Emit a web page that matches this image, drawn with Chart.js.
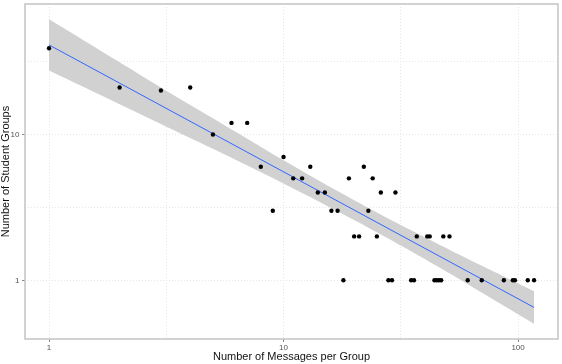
<!DOCTYPE html>
<html>
<head>
<meta charset="utf-8">
<script src="https://cdn.jsdelivr.net/npm/chart.js@4"></script>
<style>
    body { margin: 0; background: #fff; }
    canvas { display: block; }
</style>
</head>
<body>
<canvas id="graficoGrupos" width="562" height="364"></canvas>
<script>
// dados
const msgPerGroup = [1, 2, 3, 4, 5, 6, 7, 8, 9, 10, 11, 12, 13, 14, 15, 16, 17, 18, 19, 20, 21, 22, 23, 24, 25, 26,
    28, 29, 30, 35, 36, 37, 41, 42, 44, 45, 46, 47, 48, 51, 61, 70, 87, 95, 97, 110, 117];
const studentGroups = [39, 21, 20, 21, 10, 12, 12, 6, 3, 7, 5, 5, 6, 4, 4, 3, 3, 1, 5, 2, 2, 6, 3, 5, 2, 4,
    1, 1, 4, 1, 1, 2, 2, 2, 1, 1, 1, 1, 2, 2, 1, 1, 1, 1, 1, 1, 1];

// reta ajustada (extremos)
const fitX = [1, 117];
const fitY = [41.1, 0.652];

// faixa de confiança
const bandX = [1, 2, 3, 5, 10, 20, 35, 60, 117];
const bandUpper = [61.7, 31.3, 21.0, 12.9, 6.65, 3.54, 2.20, 1.42, 0.842];
const bandLower = [27.4, 16.1, 11.8, 7.97, 4.61, 2.59, 1.58, 0.956, 0.504];

// ticks (principais com rótulo, secundários só com grade)
const xTickValues = [1, 3.1623, 10, 31.623, 100];
const xTickLabels = ['1', '', '10', '', '100'];
const yTickValues = [1, 3.1623, 10, 31.623];
const yTickLabels = ['1', '', '10', ''];

const pontos = msgPerGroup.map((x, i) => ({ x: x, y: studentGroups[i] }));
const reta = fitX.map((x, i) => ({ x: x, y: fitY[i] }));
const faixaSup = bandX.map((x, i) => ({ x: x, y: bandUpper[i] }));
const faixaInf = bandX.map((x, i) => ({ x: x, y: bandLower[i] }));

// moldura do painel
const moldura = {
    id: 'moldura',
    afterDraw(chart) {
        const a = chart.chartArea;
        const ctx = chart.ctx;
        ctx.save();
        ctx.strokeStyle = '#c4c4c4';
        ctx.lineWidth = 1.5;
        ctx.strokeRect(a.left, a.top, a.right - a.left, a.bottom - a.top);
        ctx.restore();
    }
};

function eixoLog(valores, rotulos, min, max, titulo, lado) {
    return {
        type: 'logarithmic',
        min: min,
        max: max,
        afterBuildTicks: s => { s.ticks = valores.map(v => ({ value: v })); },
        afterFit: s => {
            // sem folga extra para os rótulos das pontas
            s.paddingTop = 0;
            s.paddingBottom = 0;
            s.paddingLeft = 0;
            s.paddingRight = 0;
            if (lado === 'x') s.height = 25; else s.width = 25;
        },
        ticks: {
            autoSkip: false,
            maxRotation: 0,
            padding: lado === 'x' ? 1 : 2.5,
            color: '#555',
            font: { family: '"Liberation Sans", Arial, sans-serif', size: 8 },
            callback: (v, i) => rotulos[i]
        },
        grid: {
            color: '#e6e6e6',
            lineWidth: 1,
            tickLength: 3,
            tickColor: ctx => rotulos[ctx.index] ? '#888' : 'rgba(0,0,0,0)',
            tickBorderDash: []
        },
        border: { display: false, dash: [1, 2] },
        title: {
            display: true,
            text: titulo,
            color: '#111',
            font: { family: '"Liberation Sans", Arial, sans-serif', size: 11, lineHeight: 1 },
            padding: lado === 'x' ? { top: 0, bottom: 2 } : { top: 0, bottom: 0 }
        }
    };
}

new Chart(document.getElementById('graficoGrupos'), {
    type: 'scatter',
    data: {
        datasets: [
            {
                label: 'grupos',
                data: pontos,
                backgroundColor: '#000',
                borderColor: '#000',
                pointRadius: 2.2,
                borderWidth: 0,
                order: 0
            },
            {
                label: 'ajuste',
                data: reta,
                showLine: true,
                borderColor: '#3366FF',
                borderWidth: 1,
                pointRadius: 0,
                order: 1
            },
            {
                label: 'sup',
                data: faixaSup,
                showLine: true,
                borderWidth: 0,
                borderColor: 'rgba(0,0,0,0)',
                backgroundColor: '#d1d1d1',
                pointRadius: 0,
                tension: 0.3,
                fill: '+1',
                order: 2
            },
            {
                label: 'inf',
                data: faixaInf,
                showLine: true,
                borderWidth: 0,
                borderColor: 'rgba(0,0,0,0)',
                pointRadius: 0,
                tension: 0.3,
                fill: false,
                order: 3
            }
        ]
    },
    options: {
        responsive: false,
        animation: false,
        layout: { padding: { left: 0, right: 2, top: 1, bottom: 0 } },
        plugins: {
            legend: { display: false },
            tooltip: { enabled: false }
        },
        scales: {
            x: eixoLog(xTickValues, xTickLabels, 0.79, 148, 'Number of Messages per Group', 'x'),
            y: eixoLog(yTickValues, yTickLabels, 0.396, 78.4, 'Number of Student Groups', 'y')
        }
    },
    plugins: [moldura]
});
</script>
</body>
</html>
